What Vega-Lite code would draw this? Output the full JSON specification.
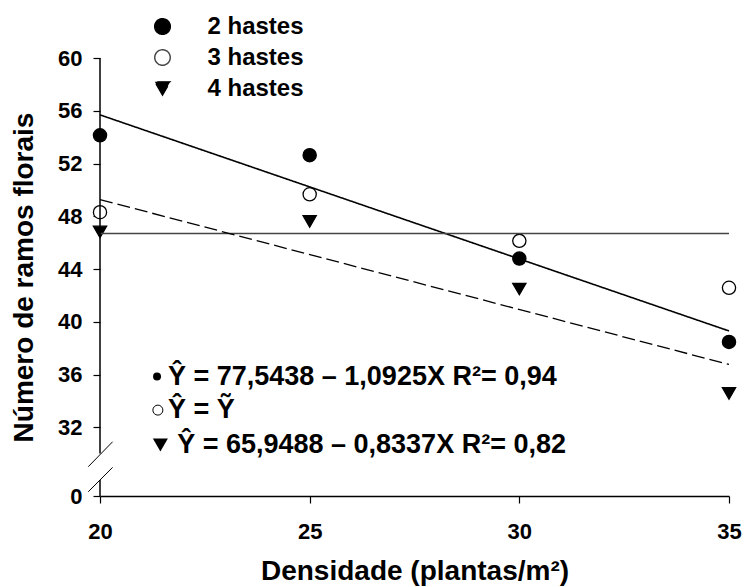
{
  "$schema": "https://vega.github.io/schema/vega-lite/v6.json",
  "width": 629,
  "height": 438,
  "autosize": {"type": "none"},
  "padding": {"left": 100, "top": 58, "right": 16, "bottom": 91},
  "background": "white",
  "config": {
    "view": {"stroke": null},
    "font": "Liberation Sans",
    "axis": {
      "grid": false,
      "domainColor": "black",
      "domainWidth": 1.5,
      "tickColor": "black",
      "tickWidth": 1.2,
      "tickSize": 7,
      "labelColor": "black",
      "labelFont": "Liberation Sans",
      "labelFontWeight": "bold",
      "labelFontSize": 22,
      "titleColor": "black",
      "titleFont": "Liberation Sans",
      "titleFontWeight": "bold"
    },
    "legend": {
      "title": null,
      "labelFont": "Liberation Sans",
      "labelFontSize": 24,
      "labelFontWeight": "bold",
      "labelColor": "black",
      "symbolSize": 240,
      "symbolStrokeColor": "black",
      "symbolStrokeWidth": 1.3,
      "labelOffset": 33,
      "rowPadding": 7
    }
  },
  "datasets": {
    "pontos": [
      {"hastes": "2 hastes", "densidade": 20, "ramos": 54.14},
      {"hastes": "2 hastes", "densidade": 25, "ramos": 52.63},
      {"hastes": "2 hastes", "densidade": 30, "ramos": 44.8},
      {"hastes": "2 hastes", "densidade": 35, "ramos": 38.48},
      {"hastes": "3 hastes", "densidade": 20, "ramos": 48.31},
      {"hastes": "3 hastes", "densidade": 25, "ramos": 49.67},
      {"hastes": "3 hastes", "densidade": 30, "ramos": 46.14},
      {"hastes": "3 hastes", "densidade": 35, "ramos": 42.58},
      {"hastes": "4 hastes", "densidade": 20, "ramos": 46.82},
      {"hastes": "4 hastes", "densidade": 25, "ramos": 47.61},
      {"hastes": "4 hastes", "densidade": 30, "ramos": 42.49},
      {"hastes": "4 hastes", "densidade": 35, "ramos": 34.58}
    ],
    "ajuste": [
      {"hastes": "2 hastes", "densidade": 20, "ramos": 55.69},
      {"hastes": "2 hastes", "densidade": 35, "ramos": 39.31},
      {"hastes": "3 hastes", "densidade": 20, "ramos": 46.7},
      {"hastes": "3 hastes", "densidade": 35, "ramos": 46.7},
      {"hastes": "4 hastes", "densidade": 20, "ramos": 49.27},
      {"hastes": "4 hastes", "densidade": 35, "ramos": 36.77}
    ],
    "equacoes": [
      {"hastes": "2 hastes", "simbolo": 21.36, "densidade": 21.62, "ramos": 35.85, "texto": "Ŷ = 77,5438 – 1,0925X R²= 0,94"},
      {"hastes": "3 hastes", "simbolo": 21.38, "densidade": 21.62, "ramos": 33.31, "texto": "Ŷ = Ỹ"},
      {"hastes": "4 hastes", "simbolo": 21.44, "densidade": 21.84, "ramos": 30.66, "texto": "Ŷ = 65,9488 – 0,8337X R²= 0,82"}
    ],
    "eixo": [
      {"densidade": 20, "ramos": 60, "ramos2": 30.03},
      {"densidade": 20, "ramos": 28.01, "ramos2": 26.8}
    ],
    "quebra": [
      {"densidade": 19.72, "ramos": 29.02, "densidade2": 20.3, "ramos2": 30.91},
      {"densidade": 19.72, "ramos": 27.12, "densidade2": 20.3, "ramos2": 28.97}
    ]
  },
  "layer": [
    {
      "data": {"name": "pontos"},
      "mark": {"type": "point", "size": 175, "stroke": "black", "strokeWidth": 1.3, "opacity": 1},
      "encoding": {
        "x": {
          "field": "densidade", "type": "quantitative",
          "scale": {"domain": [20, 35]},
          "axis": {
            "values": [20, 25, 30, 35],
            "format": "d",
            "labelPadding": 18,
            "labelFlush": false,
            "title": "Densidade (plantas/m²)",
            "titleFontSize": 28,
            "titlePadding": 15
          }
        },
        "y": {
          "field": "ramos", "type": "quantitative",
          "scale": {"domain": [26.8, 60], "zero": false, "nice": false},
          "axis": {
            "values": [26.8, 32, 36, 40, 44, 48, 52, 56, 60],
            "labelExpr": "datum.value < 30 ? '0' : datum.label",
            "domain": false,
            "labelPadding": 11,
            "title": "Número de ramos florais",
            "titleFontSize": 28,
            "titlePadding": 19
          }
        },
        "shape": {
          "field": "hastes", "type": "nominal",
          "scale": {"domain": ["2 hastes", "3 hastes", "4 hastes"], "range": ["circle", "circle", "triangle-down"]},
          "legend": {"orient": "none", "legendX": 50.5, "legendY": -43.5}
        },
        "fill": {
          "field": "hastes", "type": "nominal",
          "scale": {"domain": ["2 hastes", "3 hastes", "4 hastes"], "range": ["black", "white", "black"]},
          "legend": {"orient": "none", "legendX": 50.5, "legendY": -43.5}
        }
      }
    },
    {
      "data": {"name": "ajuste"},
      "mark": {"type": "line"},
      "encoding": {
        "x": {"field": "densidade", "type": "quantitative", "scale": {"domain": [20, 35]}},
        "y": {"field": "ramos", "type": "quantitative", "scale": {"domain": [26.8, 60], "zero": false, "nice": false}},
        "color": {
          "field": "hastes", "type": "nominal",
          "scale": {"domain": ["2 hastes", "3 hastes", "4 hastes"], "range": ["black", "#444444", "black"]},
          "legend": null
        },
        "strokeDash": {
          "field": "hastes", "type": "nominal",
          "scale": {"domain": ["2 hastes", "3 hastes", "4 hastes"], "range": [[1, 0], [1, 0], [13, 5]]},
          "legend": null
        },
        "strokeWidth": {
          "field": "hastes", "type": "nominal",
          "scale": {"domain": ["2 hastes", "3 hastes", "4 hastes"], "range": [1.6, 1.3, 1.6]},
          "legend": null
        }
      }
    },
    {
      "data": {"name": "eixo"},
      "mark": {"type": "rule", "color": "black", "strokeWidth": 1.5},
      "encoding": {
        "x": {"field": "densidade", "type": "quantitative", "scale": {"domain": [20, 35]}},
        "y": {"field": "ramos", "type": "quantitative", "scale": {"domain": [26.8, 60], "zero": false, "nice": false}},
        "y2": {"field": "ramos2"}
      }
    },
    {
      "data": {"name": "quebra"},
      "mark": {"type": "rule", "color": "black", "strokeWidth": 1},
      "encoding": {
        "x": {"field": "densidade", "type": "quantitative", "scale": {"domain": [20, 35]}},
        "x2": {"field": "densidade2"},
        "y": {"field": "ramos", "type": "quantitative", "scale": {"domain": [26.8, 60], "zero": false, "nice": false}},
        "y2": {"field": "ramos2"}
      }
    },
    {
      "data": {"name": "equacoes"},
      "transform": [{"filter": "datum.hastes == '2 hastes'"}],
      "mark": {"type": "point", "shape": "circle", "filled": true, "color": "black", "size": 64, "opacity": 1},
      "encoding": {
        "x": {"field": "simbolo", "type": "quantitative", "scale": {"domain": [20, 35]}},
        "y": {"field": "ramos", "type": "quantitative", "scale": {"domain": [26.8, 60], "zero": false, "nice": false}}
      }
    },
    {
      "data": {"name": "equacoes"},
      "transform": [{"filter": "datum.hastes == '3 hastes'"}],
      "mark": {"type": "point", "shape": "circle", "filled": false, "stroke": "black", "fill": "white", "strokeWidth": 1, "size": 100, "opacity": 1},
      "encoding": {
        "x": {"field": "simbolo", "type": "quantitative", "scale": {"domain": [20, 35]}},
        "y": {"field": "ramos", "type": "quantitative", "scale": {"domain": [26.8, 60], "zero": false, "nice": false}}
      }
    },
    {
      "data": {"name": "equacoes"},
      "transform": [{"filter": "datum.hastes == '4 hastes'"}],
      "mark": {"type": "point", "shape": "triangle-down", "filled": true, "color": "black", "size": 225, "opacity": 1},
      "encoding": {
        "x": {"field": "simbolo", "type": "quantitative", "scale": {"domain": [20, 35]}},
        "y": {"field": "ramos", "type": "quantitative", "scale": {"domain": [26.8, 60], "zero": false, "nice": false}}
      }
    },
    {
      "data": {"name": "equacoes"},
      "mark": {"type": "text", "align": "left", "baseline": "middle", "font": "Liberation Sans", "fontWeight": "bold", "fontSize": 27, "color": "black"},
      "encoding": {
        "x": {"field": "densidade", "type": "quantitative", "scale": {"domain": [20, 35]}},
        "y": {"field": "ramos", "type": "quantitative", "scale": {"domain": [26.8, 60], "zero": false, "nice": false}},
        "text": {"field": "texto"}
      }
    }
  ]
}
